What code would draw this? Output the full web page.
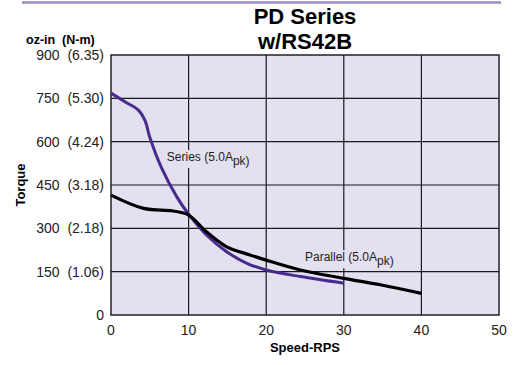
<!DOCTYPE html>
<html>
<head>
<meta charset="utf-8">
<script src="https://cdn.jsdelivr.net/npm/d3@7"></script>
<style>
  body { margin: 0; background: #fff; }
  svg { display: block; font-family: "Liberation Sans", Arial, sans-serif; }
</style>
</head>
<body>
<script>
const xTicks = [0, 10, 20, 30, 40, 50];
const yTicks = [0, 150, 300, 450, 600, 750, 900];
const yTickMetric = ["", "(1.06)", "(2.18)", "(3.18)", "(4.24)", "(5.30)", "(6.35)"];

// Series winding (5.0A pk)
const seriesSpeed = [0, 2, 3.5, 4.4, 5, 6.5, 8.5, 10, 12.3, 14.9, 17.5, 20, 24.4, 30];
const seriesTorque = [768, 735, 710, 672, 615, 510, 408, 349, 277, 219, 179, 156, 133, 110];

// Parallel winding (5.0A pk)
const parallelSpeed = [0, 4.2, 8, 10, 12.3, 14.9, 17.9, 20, 24.4, 30, 35, 40];
const parallelTorque = [415, 369, 360, 346, 288, 236, 208, 190, 156, 127, 103, 75];

const width = 513,
  height = 365;
const margin = { top: 55, right: 14, bottom: 50, left: 111 };

const svg = d3
  .select("body")
  .append("svg")
  .attr("width", width)
  .attr("height", height);

const x = d3
  .scaleLinear()
  .domain([0, 50])
  .range([margin.left, width - margin.right]);
const y = d3
  .scaleLinear()
  .domain([0, 900])
  .range([height - margin.bottom, margin.top]);

// purple rule at the top
svg
  .append("line")
  .attr("x1", 22)
  .attr("x2", 501)
  .attr("y1", 2.5)
  .attr("y2", 2.5)
  .attr("stroke", "#9c88c6")
  .attr("stroke-width", 2.5);

// title
svg
  .append("text")
  .attr("x", x(25))
  .attr("text-anchor", "middle")
  .attr("font-weight", "bold")
  .attr("font-size", 22)
  .selectAll("tspan")
  .data(["PD Series", "w/RS42B"])
  .join("tspan")
  .attr("x", x(25))
  .attr("y", (d, i) => 24 + i * 25)
  .text((d) => d);

// plot background
svg
  .append("rect")
  .attr("x", x(0))
  .attr("y", y(900))
  .attr("width", x(50) - x(0))
  .attr("height", y(0) - y(900))
  .attr("fill", "#e3e0f0");

// grid
svg
  .append("g")
  .selectAll("line")
  .data(xTicks.slice(1, -1))
  .join("line")
  .attr("x1", (d) => x(d))
  .attr("x2", (d) => x(d))
  .attr("y1", y(0))
  .attr("y2", y(900))
  .attr("stroke", "#1a1a1a")
  .attr("stroke-width", 1.2);

svg
  .append("g")
  .selectAll("line")
  .data(yTicks.slice(1, -1))
  .join("line")
  .attr("x1", x(0))
  .attr("x2", x(50))
  .attr("y1", (d) => y(d))
  .attr("y2", (d) => y(d))
  .attr("stroke", "#1a1a1a")
  .attr("stroke-width", 1.2);

// frame
svg
  .append("rect")
  .attr("x", x(0))
  .attr("y", y(900))
  .attr("width", x(50) - x(0))
  .attr("height", y(0) - y(900))
  .attr("fill", "none")
  .attr("stroke", "#222")
  .attr("stroke-width", 1.5);

// axis tick labels
svg
  .append("g")
  .attr("font-size", 14)
  .attr("fill", "#222")
  .selectAll("text")
  .data(xTicks)
  .join("text")
  .attr("x", (d) => x(d))
  .attr("y", y(0) + 20)
  .attr("text-anchor", "middle")
  .text((d) => d);

svg
  .append("g")
  .attr("font-size", 14)
  .attr("fill", "#222")
  .selectAll("text")
  .data(yTicks)
  .join("text")
  .attr("x", x(0) - 7)
  .attr("y", (d) => y(d) + 5)
  .attr("text-anchor", "end")
  .attr("xml:space", "preserve")
  .text((d, i) => (i === 0 ? "0" : `${d}  ${yTickMetric[i]}`));

// axis titles
svg
  .append("text")
  .attr("x", 26)
  .attr("y", 43.5)
  .attr("font-size", 12.5)
  .attr("font-weight", "bold")
  .attr("xml:space", "preserve")
  .text("oz-in  (N-m)");

svg
  .append("text")
  .attr("transform", `translate(25,${(y(0) + y(900)) / 2}) rotate(-90)`)
  .attr("text-anchor", "middle")
  .attr("font-size", 13)
  .attr("font-weight", "bold")
  .text("Torque");

svg
  .append("text")
  .attr("x", x(25))
  .attr("y", 352)
  .attr("text-anchor", "middle")
  .attr("font-size", 13)
  .attr("font-weight", "bold")
  .text("Speed-RPS");

// curve labels, drawn on a background patch so grid lines break behind them
function curveLabel(xv, yv, main) {
  const g = svg.append("g");
  const bg = g.append("rect").attr("fill", "#e3e0f0");
  const t = g
    .append("text")
    .attr("x", x(xv))
    .attr("y", y(yv))
    .attr("font-size", 12)
    .attr("fill", "#222");
  t.append("tspan").text(main);
  t.append("tspan").attr("dy", 4).text("pk)");
  const b = t.node().getBBox();
  bg.attr("x", b.x - 1)
    .attr("y", b.y)
    .attr("width", b.width + 2)
    .attr("height", b.height);
}

curveLabel(7.2, 533, "Series (5.0A");
curveLabel(25, 186, "Parallel (5.0A");

// curves
const line = d3
  .line()
  .x((d) => x(d[0]))
  .y((d) => y(d[1]))
  .curve(d3.curveCatmullRom.alpha(0.5));

svg
  .append("path")
  .datum(d3.zip(seriesSpeed, seriesTorque))
  .attr("d", line)
  .attr("fill", "none")
  .attr("stroke", "#4a2a8c")
  .attr("stroke-width", 3);

svg
  .append("path")
  .datum(d3.zip(parallelSpeed, parallelTorque))
  .attr("d", line)
  .attr("fill", "none")
  .attr("stroke", "#000")
  .attr("stroke-width", 3.2);
</script>
</body>
</html>
